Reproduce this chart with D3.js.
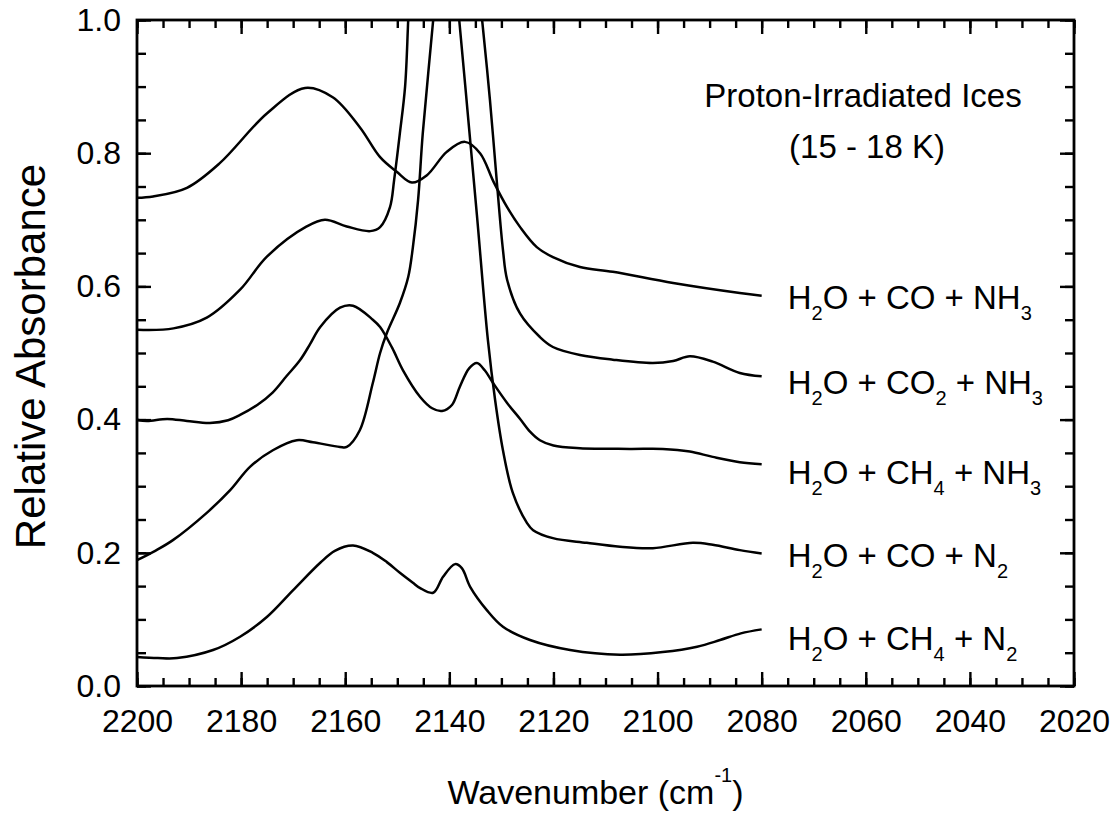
<!DOCTYPE html>
<html><head><meta charset="utf-8">
<script src="https://cdn.jsdelivr.net/npm/d3@7/dist/d3.min.js"></script>
<style>
body{margin:0;background:#fff}
text{font-family:"Liberation Sans",Arial,Helvetica,sans-serif;fill:#000}
</style>
</head><body>
<svg id="chart" width="1114" height="814"></svg>
<script>
// ---- data ----
const seriesNames = ["H2O + CO + NH3","H2O + CO2 + NH3","H2O + CH4 + NH3","H2O + CO + N2","H2O + CH4 + N2"];

const wnCONH3  = [2200,2196.9,2190.4,2184.1,2175,2167.7,2162.4,2157.2,2153.3,2150.1,2147.2,2144.3,2140.5,2137,2134.1,2131.5,2128.9,2126.4,2123.2,2120.1,2114.9,2108.6,2097,2084.2,2080];
const absCONH3 = [0.733,0.735,0.748,0.785,0.860,0.898,0.884,0.839,0.794,0.772,0.756,0.767,0.802,0.817,0.800,0.757,0.719,0.689,0.659,0.644,0.629,0.622,0.605,0.590,0.586];

const wnCO2NH3  = [2200,2193,2186.6,2180.2,2175,2167.4,2163.9,2159.7,2155.2,2153.3,2151.4,2150.6,2149.5,2148.5,2147.9,2147.0,2141.6,2136.1,2133.7,2132.2,2130.8,2129.7,2128.9,2126.4,2122.6,2120.1,2114.9,2108.6,2100.9,2097,2093.8,2089.4,2084.2,2080];
const absCO2NH3 = [0.535,0.537,0.553,0.595,0.645,0.690,0.700,0.690,0.683,0.689,0.719,0.760,0.830,0.900,1.000,1.18,1.48,1.18,1.000,0.880,0.750,0.655,0.610,0.559,0.524,0.509,0.497,0.490,0.485,0.488,0.495,0.487,0.470,0.465];

const wnCH4NH3  = [2200,2198.1,2194.2,2190.4,2186,2182.5,2180.2,2176.9,2173.9,2171.3,2168.7,2166.7,2164.8,2161,2158.5,2154.7,2153.3,2151,2148.9,2145.6,2143.3,2141.4,2139.5,2138,2136.2,2134.7,2133.2,2131.6,2128.9,2126.4,2124.5,2122.6,2120,2114.9,2105.3,2099,2093.8,2089.4,2084.2,2080];
const absCH4NH3 = [0.400,0.398,0.401,0.398,0.395,0.399,0.407,0.422,0.441,0.465,0.489,0.514,0.539,0.568,0.571,0.550,0.539,0.508,0.474,0.434,0.417,0.413,0.422,0.449,0.477,0.485,0.474,0.455,0.425,0.401,0.382,0.369,0.361,0.357,0.356,0.356,0.352,0.344,0.336,0.333];

const wnCON2  = [2200,2196.5,2193.1,2186.6,2182.1,2178.3,2173.9,2169.3,2166.2,2161,2159.7,2157.2,2154.7,2153.3,2152.0,2149.5,2147.9,2147.0,2146.0,2145.1,2143.1,2141.8,2140.7,2139.7,2138.1,2136.4,2134.7,2132.6,2131.2,2129.7,2127.8,2125.1,2123.9,2120.1,2113.6,2107.2,2100.9,2093.2,2089.4,2084.2,2080];
const absCON2 = [0.189,0.203,0.219,0.260,0.294,0.329,0.354,0.369,0.366,0.359,0.359,0.384,0.455,0.500,0.530,0.575,0.614,0.659,0.730,0.830,1.000,1.12,1.33,1.12,1.000,0.854,0.707,0.520,0.429,0.354,0.290,0.245,0.234,0.222,0.215,0.209,0.207,0.215,0.212,0.204,0.199];

const wnCH4N2  = [2200,2196,2192.3,2185.4,2180.2,2175,2170,2164.8,2162,2158.5,2154.7,2152,2149.5,2147,2145.6,2143.1,2141.2,2138.9,2137.6,2136,2132.8,2129.7,2124.5,2116.8,2107.2,2099,2092.4,2088,2084,2080];
const absCH4N2 = [0.0435,0.042,0.042,0.054,0.074,0.104,0.144,0.185,0.203,0.211,0.200,0.186,0.170,0.155,0.147,0.140,0.164,0.183,0.177,0.149,0.114,0.089,0.069,0.054,0.047,0.051,0.059,0.069,0.079,0.085];

const xTickValues = [2200,2180,2160,2140,2120,2100,2080,2060,2040,2020];
const yTickValues = [0.0,0.2,0.4,0.6,0.8,1.0];
const titleLines = ["Proton-Irradiated Ices","(15 - 18 K)"];
const labelY = [0.566,0.438,0.303,0.179,0.054];   // baseline of each label in absorbance units
const labelX = 2075;

// ---- layout ----
const svg = d3.select("#chart");
const L=137, R=1074, T=20, B=686;
const x = d3.scaleLinear().domain([2200,2020]).range([L,R]);
const y = d3.scaleLinear().domain([0,1]).range([B,T]);

const series = [
  [wnCONH3,absCONH3],[wnCO2NH3,absCO2NH3],[wnCH4NH3,absCH4NH3],[wnCON2,absCON2],[wnCH4N2,absCH4N2]
].map(([w,a]) => w.map((v,i)=>({w:v,a:a[i]})));

svg.append("clipPath").attr("id","clip").append("rect")
  .attr("x",L).attr("y",T).attr("width",R-L).attr("height",B-T);

const line = d3.line().x(d=>x(d.w)).y(d=>y(d.a)).curve(d3.curveCatmullRom.alpha(0.5));
svg.append("g").attr("clip-path","url(#clip)")
  .selectAll("path").data(series).join("path")
  .attr("d",line).attr("fill","none").attr("stroke","#000").attr("stroke-width",2.5)
  .attr("stroke-linejoin","round");

// ---- axes (ticks inward on all four sides) ----
const xMinor = d3.range(2200,2019,-5);
const yMinor = d3.range(0,1.0001,0.05);
const fs = 32;
function style(g){ g.select(".domain").remove(); g.selectAll("line").attr("stroke","#000").attr("stroke-width",2.4); }

svg.append("g").attr("transform",`translate(0,${B})`)
  .call(d3.axisBottom(x).tickValues(xMinor).tickSize(-8).tickFormat("")).call(style);
svg.append("g").attr("transform",`translate(0,${B})`)
  .call(d3.axisBottom(x).tickValues(xTickValues).tickSize(-14).tickPadding(23).tickFormat(d3.format("d")))
  .call(style).selectAll("text").attr("font-size",fs).attr("font-family",null);
svg.append("g").attr("transform",`translate(0,${T})`)
  .call(d3.axisTop(x).tickValues(xMinor).tickSize(-8).tickFormat("")).call(style);
svg.append("g").attr("transform",`translate(0,${T})`)
  .call(d3.axisTop(x).tickValues(xTickValues).tickSize(-14).tickFormat("")).call(style);

svg.append("g").attr("transform",`translate(${L},0)`)
  .call(d3.axisLeft(y).tickValues(yMinor).tickSize(-9).tickFormat("")).call(style);
svg.append("g").attr("transform",`translate(${L},0)`)
  .call(d3.axisLeft(y).tickValues(yTickValues).tickSize(-14).tickPadding(16).tickFormat(d3.format(".1f")))
  .call(style).selectAll("text").attr("font-size",fs).attr("font-family",null);
svg.append("g").attr("transform",`translate(${R},0)`)
  .call(d3.axisRight(y).tickValues(yMinor).tickSize(-9).tickFormat("")).call(style);
svg.append("g").attr("transform",`translate(${R},0)`)
  .call(d3.axisRight(y).tickValues(yTickValues).tickSize(-14).tickFormat("")).call(style);

svg.append("rect").attr("x",L).attr("y",T).attr("width",R-L).attr("height",B-T)
  .attr("fill","none").attr("stroke","#000").attr("stroke-width",2.8);

// ---- axis titles ----
const xt = svg.append("text").attr("x",(L+R)/2 - 10).attr("y",804).attr("text-anchor","middle").attr("font-size",34);
xt.append("tspan").text("Wavenumber (cm");
xt.append("tspan").attr("dy",-22).attr("font-size",20).text("-1");
xt.append("tspan").attr("dy",22).text(")");

svg.append("text").attr("transform",`translate(45,${(163+550)/2}) rotate(-90)`)
  .attr("text-anchor","middle").attr("font-size",42).text("Relative Absorbance");

// ---- annotation ----
svg.append("text").attr("x",863).attr("y",107).attr("text-anchor","middle").attr("font-size",33).text(titleLines[0]);
svg.append("text").attr("x",867).attr("y",158).attr("text-anchor","middle").attr("font-size",33).text(titleLines[1]);

// ---- series labels with subscripts ----
seriesNames.forEach((name,i)=>{
  const t = svg.append("text").attr("x",x(labelX)).attr("y",y(labelY[i])).attr("font-size",33);
  const parts = name.match(/(?<=[A-Za-z])\d+|[^\d]+|\d+/g);
  let sub=false;
  parts.forEach(p=>{
    const isSub = /^\d+$/.test(p);
    const ts = t.append("tspan").text(p);
    if(isSub && !sub){ ts.attr("dy",11).attr("font-size",20); sub=true; }
    else if(!isSub && sub){ ts.attr("dy",-11); sub=false; }
  });
});
</script>
</body></html>
